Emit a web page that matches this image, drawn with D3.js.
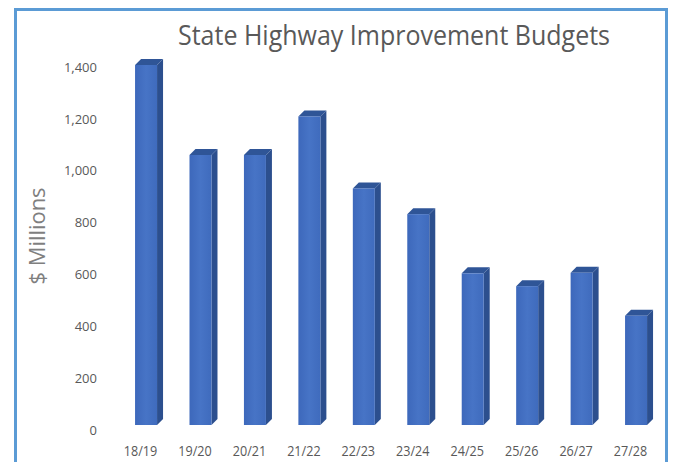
<!DOCTYPE html>
<html>
<head>
<meta charset="utf-8">
<script src="https://cdn.jsdelivr.net/npm/d3@7"></script>
<style>
  body { margin: 0; background: #fff; }
  text { font-family: "Open Sans", "Liberation Sans", sans-serif; }
</style>
</head>
<body>
<div id="chart"></div>
<script>
// data
var categories = ["18/19", "19/20", "20/21", "21/22", "22/23", "23/24", "24/25", "25/26", "26/27", "27/28"];
var budgets = [1400, 1050, 1050, 1200, 920, 820, 590, 540, 592, 425];
var yTicks = [0, 200, 400, 600, 800, 1000, 1200, 1400];

var W = 673, H = 462;
var depthX = 6, depthY = 6;

var svg = d3.select("#chart").append("svg")
  .attr("width", W)
  .attr("height", H);

// frame
svg.append("rect")
  .attr("x", 15.5).attr("y", 9.5)
  .attr("width", 651).attr("height", 470)
  .attr("fill", "#fff")
  .attr("stroke", "#5b9bd5")
  .attr("stroke-width", 3);

var x = d3.scaleBand()
  .domain(categories)
  .range([102.6, 679.5])
  .padding(0.596);

// front face scale, and the wall scale the labels sit on
var y = d3.scaleLinear().domain([0, 1400]).range([425, 65]);
var yAxisScale = d3.scaleLinear().domain([0, 1400]).range([430, 67]);

// squeeze text a little, the original font is narrow
function condense(sel, k) {
  sel.each(function() {
    var w = this.getComputedTextLength();
    d3.select(this).attr("textLength", w * k).attr("lengthAdjust", "spacingAndGlyphs");
  });
}

// title
svg.append("text")
  .attr("x", 394).attr("y", 45)
  .attr("text-anchor", "middle")
  .attr("textLength", 432)
  .attr("lengthAdjust", "spacingAndGlyphs")
  .style("font-size", "28px")
  .style("fill", "#595959")
  .text("State Highway Improvement Budgets");

// y axis title
svg.append("text")
  .attr("transform", "translate(45,236) rotate(-90)")
  .attr("text-anchor", "middle")
  .attr("textLength", 97)
  .attr("lengthAdjust", "spacingAndGlyphs")
  .style("font-size", "21px")
  .style("fill", "#7f7f7f")
  .text("$ Millions");

// y tick labels
var yAxis = d3.axisLeft(yAxisScale)
  .tickValues(yTicks)
  .tickSize(0)
  .tickPadding(0)
  .tickFormat(d3.format(","));

var gy = svg.append("g")
  .attr("transform", "translate(97,0)")
  .call(yAxis);
gy.select(".domain").remove();
gy.selectAll("text")
  .style("font-size", "13px")
  .style("font-family", "\"Open Sans\", sans-serif")
  .style("fill", "#595959")
  .call(condense, 1.0);

// x labels
var gx = svg.append("g")
  .attr("transform", "translate(-5.5,445)")
  .call(d3.axisBottom(x).tickSize(0).tickPadding(0));
gx.select(".domain").remove();
gx.selectAll("text")
  .attr("dy", "0.8em")
  .style("font-size", "14px")
  .style("font-family", "\"Open Sans\", sans-serif")
  .style("fill", "#595959")
  .call(condense, 0.9);

// bars: front, side, top
var defs = svg.append("defs");
var grad = defs.append("linearGradient").attr("id", "front")
  .attr("x1", "0").attr("x2", "1").attr("y1", "0").attr("y2", "0");
grad.append("stop").attr("offset", "0").attr("stop-color", "#3d68bb");
grad.append("stop").attr("offset", "0.5").attr("stop-color", "#4774c6");
grad.append("stop").attr("offset", "1").attr("stop-color", "#3f6bbd");

var bars = svg.append("g").selectAll("g")
  .data(categories.map(function(c, i) { return { cat: c, value: budgets[i] }; }))
  .enter()
  .append("g");

bars.append("path")
  .attr("fill", "#2c4f8e")
  .attr("d", function(d) {
    var x1 = x(d.cat) + x.bandwidth(), yt = y(d.value), yb = y(0);
    return "M" + x1 + "," + yt + "L" + (x1 + depthX) + "," + (yt - depthY) +
      "L" + (x1 + depthX) + "," + (yb - depthY) + "L" + x1 + "," + yb + "Z";
  });

bars.append("path")
  .attr("fill", "#2f5597")
  .attr("d", function(d) {
    var x0 = x(d.cat), x1 = x0 + x.bandwidth(), yt = y(d.value);
    return "M" + x0 + "," + yt + "L" + (x0 + depthX) + "," + (yt - depthY) +
      "L" + (x1 + depthX) + "," + (yt - depthY) + "L" + x1 + "," + yt + "Z";
  });

bars.append("rect")
  .attr("x", function(d) { return x(d.cat); })
  .attr("y", function(d) { return y(d.value); })
  .attr("width", x.bandwidth())
  .attr("height", function(d) { return y(0) - y(d.value); })
  .attr("fill", "url(#front)");
</script>
</body>
</html>
